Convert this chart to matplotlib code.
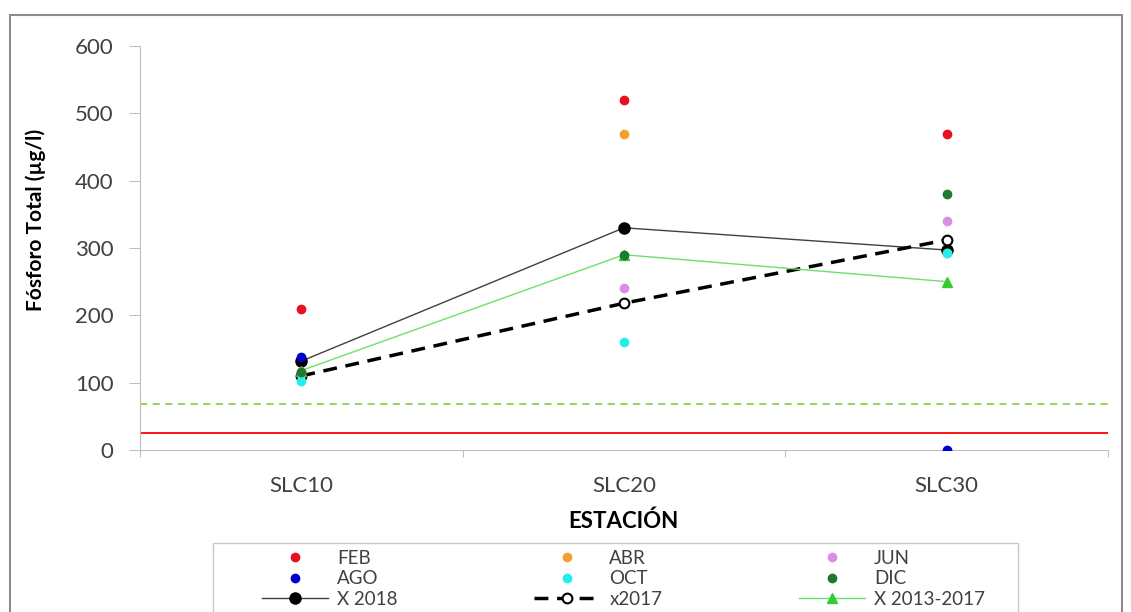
import numpy as np
import matplotlib.pyplot as plt
from matplotlib.patches import Rectangle

### data ###
estaciones = ['SLC10', 'SLC20', 'SLC30']
feb = [210, 520, 470]
abr = [116, 470, 292]
jun = [116, 240, 340]
ago = [138, np.nan, 0]
octu = [102, 160, 292]
dic = [116, 290, 380]
x2018 = [132, 330, 297]
x2017 = [110, 218, 312]
x2013_2017 = [118, 290, 250]
lim_verde = 68
lim_rojo = 25

plt.rcParams['font.family'] = ['Lato', 'DejaVu Sans']
W, H = 1131, 612

fig = plt.figure(figsize=(W/100, H/100), dpi=100)
ax = fig.add_axes([140/W, 1-450/H, (1108-140)/W, (450-46)/H])

# grey frame round the chart (cut at the bottom like the original)
fig.patches.append(Rectangle((10/W, -0.05), (1122-10)/W, 1.05-15/H,
                             transform=fig.transFigure, fill=False,
                             edgecolor='#8c8c8c', lw=1.5, clip_on=False))
# legend box, also cut at the bottom
fig.patches.append(Rectangle((213/W, -0.05), (1018-213)/W, 0.05+1-543/H,
                             transform=fig.transFigure, fill=False,
                             edgecolor='#C8C8C8', lw=1, clip_on=False))

x = np.arange(len(estaciones)) + 0.5

ax.axhline(lim_verde, color='#92D050', lw=1.3, ls=(0, (4, 3)), zorder=1)
ax.axhline(lim_rojo, color='#FF0000', lw=1.3, zorder=1)

l18, = ax.plot(x, x2018, color='#404040', lw=1, marker='o', ms=8,
               mfc='black', mec='black', zorder=2, label='X 2018')
l17, = ax.plot(x, x2017, color='black', lw=2.5, ls=(0, (4, 2.5)), marker='o',
               ms=7, mfc='white', mec='black', mew=1.5, zorder=2, label='x2017')
l13, = ax.plot(x, x2013_2017, color='#6CE06C', lw=1, marker='^', ms=7,
               mfc='#33CC33', mec='#33CC33', zorder=2, label='X 2013-2017')

meses = [(feb, '#E8101E', 'FEB'), (abr, '#F4A030', 'ABR'), (jun, '#DA8FE6', 'JUN'),
         (ago, '#0000CC', 'AGO'), (octu, '#22EEEE', 'OCT'), (dic, '#1E7B2E', 'DIC')]
h = {}
for vals, c, name in meses:
    h[name], = ax.plot(x, vals, ls='none', marker='o', ms=6, color=c,
                       zorder=3, label=name)

ax.set_xlim(0, 3)
ax.set_ylim(0, 600)
ax.set_yticks(range(0, 601, 100))
ax.set_xticks([0, 1, 2, 3])
ax.set_xticklabels([])
ax.set_xticks(x, minor=True)
ax.set_xticklabels(estaciones, minor=True)
ax.tick_params(axis='x', which='minor', length=0, pad=19, labelsize=16, colors='#404040')
ax.tick_params(axis='x', which='major', length=5, color='#BFBFBF', direction='out')
ax.tick_params(axis='y', length=8, color='#BFBFBF', labelsize=16, labelcolor='#404040', pad=11)
for s in ['top', 'right']:
    ax.spines[s].set_visible(False)
for s in ['left', 'bottom']:
    ax.spines[s].set_color('#BFBFBF')

ax.set_ylabel('Fósforo Total (µg/l)', fontsize=15, fontweight='bold', va='center')
ax.yaxis.set_label_coords((36-140)/968, (450-220)/404)
ax.set_xlabel('ESTACIÓN', fontsize=16, fontweight='bold', va='center')
ax.xaxis.set_label_coords((623-140)/968, (450-521)/404)

# legend filled column by column
handles = [h['FEB'], h['AGO'], l18, h['ABR'], h['OCT'], l17, h['JUN'], h['DIC'], l13]
leg = fig.legend(handles=handles, labels=[hh.get_label() for hh in handles],
                 ncol=3, loc='upper left', bbox_to_anchor=(262/W, 1-550/H),
                 frameon=False, fontsize=13.5, borderpad=0, borderaxespad=0,
                 handlelength=3.5, columnspacing=7.3, labelspacing=0.18,
                 handletextpad=0.5)
for t in leg.get_texts():
    t.set_color('#404040')

fig.savefig('out.png', dpi=100)
